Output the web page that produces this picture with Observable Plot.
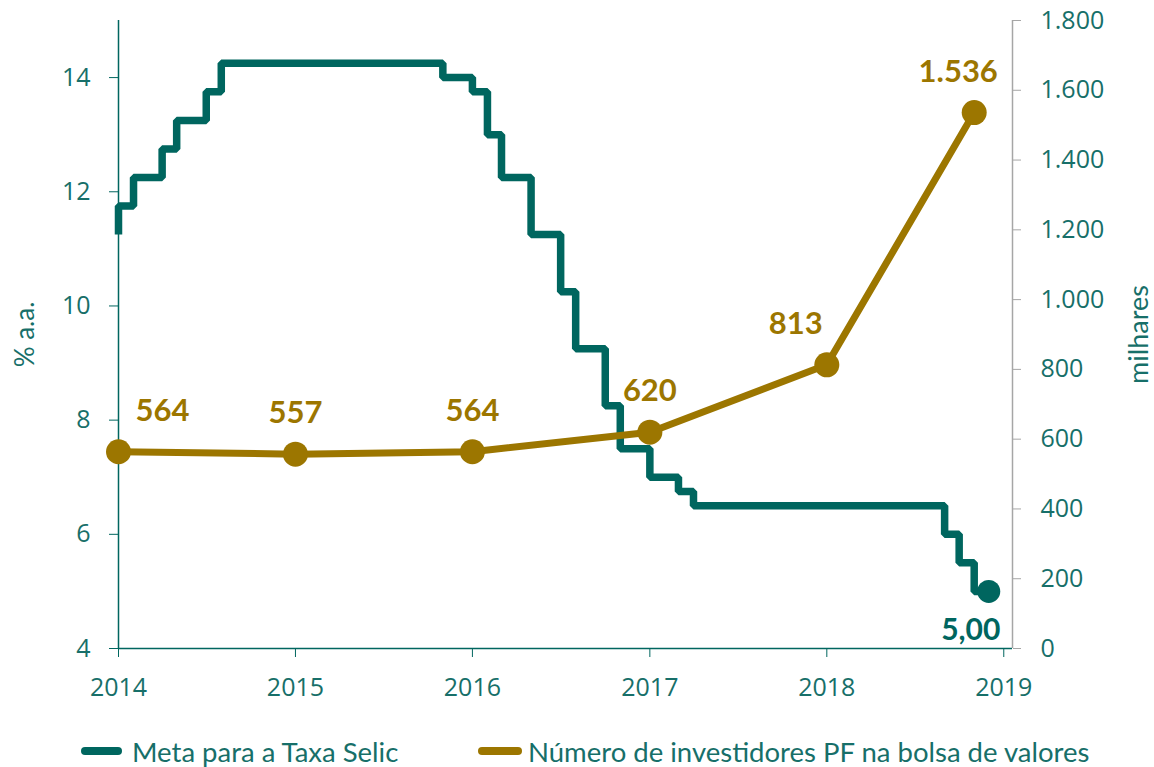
<!DOCTYPE html>
<html><head><meta charset="utf-8">
<script src="https://cdn.jsdelivr.net/npm/d3@7"></script>
<script src="https://cdn.jsdelivr.net/npm/@observablehq/plot@0.6"></script>
<style>
body{margin:0;background:#fff;}
#wrap{width:1154px;}
.legend{position:relative;width:1154px;height:47px;font-family:Lato,sans-serif;font-size:27.5px;color:#176F69;}
.item{position:absolute;top:17px;height:28px;display:flex;align-items:center;white-space:nowrap;}
.sw{display:inline-block;height:8px;border-radius:4px;margin-right:10px;}
</style></head><body><div id="wrap"></div>
<script>
// Meta para a Taxa Selic (% a.a.), step changes by month
const selicMonths = ["2014-01","2014-01","2014-02","2014-04","2014-05","2014-07","2014-08","2015-11","2016-01","2016-02","2016-03","2016-05","2016-07","2016-08","2016-10","2016-11","2017-01","2017-03","2017-04","2018-09","2018-10","2018-11","2018-12"];
const selicValues = [11.25,11.75,12.25,12.75,13.25,13.75,14.25,14.00,13.75,13.00,12.25,11.25,10.25,9.25,8.25,7.50,7.00,6.75,6.50,6.00,5.50,5.00,5.00];
// Número de investidores PF na bolsa de valores (milhares)
const investMonths = ["2014-01","2015-01","2016-01","2017-01","2018-01","2018-11"];
const investValues = [564,557,564,620,813,1536];
// axis ticks
const leftTicks = [4,6,8,10,12,14];
const rightTicks = [0,200,400,600,800,1000,1200,1400,1600,1800];
const yearTicks = ["2014","2015","2016","2017","2018","2019"];
const legendLabels = ["Meta para a Taxa Selic","Número de investidores PF na bolsa de valores"];

const teal = "#00665F", tealText = "#176F69", gold = "#9C7600", grey = "#A6A6A6";
const leftDomain = [4, 15], rightDomain = [0, 1800];
const toLeft = v => leftDomain[0] + (v - rightDomain[0]) / (rightDomain[1] - rightDomain[0]) * (leftDomain[1] - leftDomain[0]);
const fromLeft = y => rightDomain[0] + (y - leftDomain[0]) / (leftDomain[1] - leftDomain[0]) * (rightDomain[1] - rightDomain[0]);
const br = d3.formatLocale({decimal: ",", thousands: ".", grouping: [3], currency: ["R$", ""]});
const fmtInt = br.format(",d"), fmt2 = br.format(",.2f");
const pm = d3.utcParse("%Y-%m"), py = d3.utcParse("%Y");

const selic = selicMonths.map((m, i) => ({date: pm(m), value: selicValues[i]}));
const invest = investMonths.map((m, i) => ({date: pm(m), value: investValues[i], y: toLeft(investValues[i])}));
const years = yearTicks.map(py);
const xDomain = [years[0], d3.utcDay.offset(years[years.length - 1], 18)];

const labelDx = [44, 0, 0, 0, -31, -16];
const labelFont = {fontFamily: "Lato, sans-serif", fontWeight: 700, fontSize: 31};
const tickFont = {fontFamily: "'Open Sans', sans-serif", fontSize: 25};

const plot = Plot.plot({
  width: 1154, height: 720,
  marginTop: 20, marginBottom: 72, marginLeft: 118, marginRight: 142,
  style: {fontFamily: "'Open Sans', sans-serif", fontSize: "25px", color: tealText, background: "white"},
  x: {type: "utc", domain: xDomain, label: null},
  y: {domain: leftDomain, label: null},
  marks: [
    Plot.ruleY([leftDomain[0]], {stroke: teal, strokeWidth: 1.5}),
    Plot.ruleX([xDomain[0]], {stroke: teal, strokeWidth: 1.5}),
    Plot.ruleX([xDomain[1]], {stroke: grey, strokeWidth: 1.5}),
    Plot.axisX(years, {tickFormat: d3.utcFormat("%Y"), tickSize: 9, tickPadding: 21, stroke: teal, fill: tealText, label: null, ...tickFont}),
    Plot.axisY(leftTicks, {anchor: "left", tickSize: 9, tickPadding: 19, stroke: teal, fill: tealText, label: null, tickFormat: d => fmtInt(d), ...tickFont}),
    Plot.axisY(rightTicks.map(toLeft), {anchor: "right", tickSize: 8, tickPadding: 20, stroke: grey, fill: tealText, label: null,
      tickFormat: d => fmtInt(Math.round(fromLeft(d))), ...tickFont}),
    Plot.text(["% a.a."], {frameAnchor: "left", dx: -93, rotate: -90, textAnchor: "middle", fill: tealText, fontSize: 26, fontFamily: "Lato, sans-serif"}),
    Plot.text(["milhares"], {frameAnchor: "right", dx: 127, rotate: -90, textAnchor: "middle", fill: tealText, fontSize: 27, fontFamily: "Lato, sans-serif"}),
    Plot.line(selic, {x: "date", y: "value", curve: "step-after", stroke: teal, strokeWidth: 7.5, strokeLinejoin: "miter", strokeLinecap: "butt"}),
    Plot.dot(selic.slice(-1), {x: "date", y: "value", r: 11.5, fill: teal}),
    Plot.text(selic.slice(-1), {x: "date", y: "value", text: d => fmt2(d.value), dx: -18, dy: 39, fill: teal, ...labelFont, fontSize: 30}),
    Plot.line(invest, {x: "date", y: "y", stroke: gold, strokeWidth: 7}),
    Plot.dot(invest, {x: "date", y: "y", r: 12.5, fill: gold}),
    ...invest.map((d, i) => Plot.text([d], {x: "date", y: "y", text: d => fmtInt(d.value), dx: labelDx[i], dy: -41, fill: gold, ...labelFont}))
  ]
});
document.getElementById("wrap").appendChild(plot);

const leg = document.createElement("div");
leg.className = "legend";
const items = [{left: 81, w: 41, c: teal, textLeft: 132}, {left: 478, w: 44, c: gold, textLeft: 528}];
legendLabels.forEach((t, i) => {
  const it = document.createElement("div");
  it.className = "item";
  it.style.left = items[i].left + "px";
  const sw = document.createElement("span");
  sw.className = "sw";
  sw.style.width = items[i].w + "px";
  sw.style.background = items[i].c;
  sw.style.marginRight = (items[i].textLeft - items[i].left - items[i].w) + "px";
  const tx = document.createElement("span");
  tx.textContent = t;
  it.appendChild(sw); it.appendChild(tx);
  leg.appendChild(it);
});
document.getElementById("wrap").appendChild(leg);
</script></body></html>
